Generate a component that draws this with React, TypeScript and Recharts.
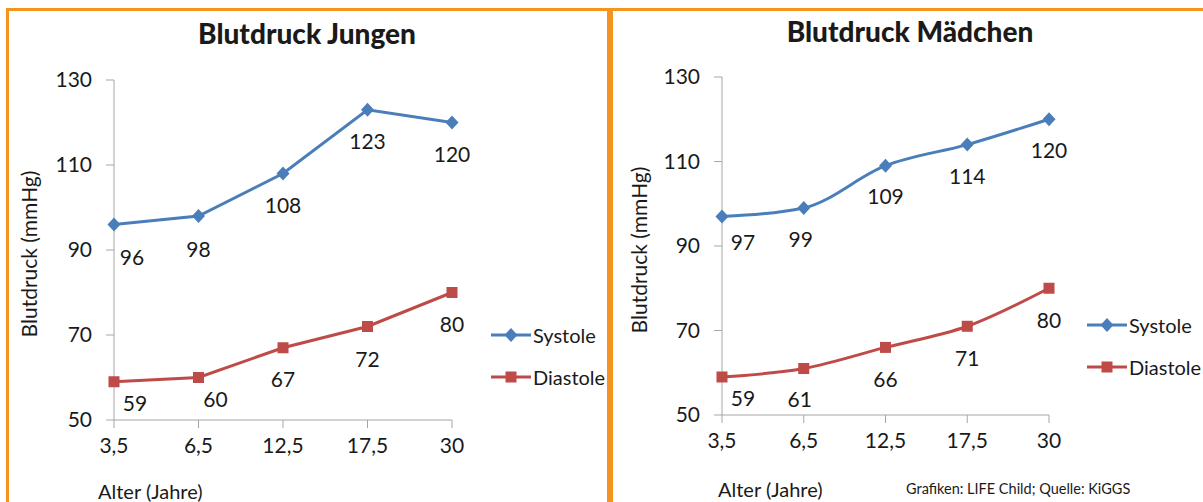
import React from "react";
import { LineChart, Line, XAxis, YAxis, LabelList } from "recharts";

// Werte
const ages = ["3,5", "6,5", "12,5", "17,5", "30"];
const boysSystole = [96, 98, 108, 123, 120];
const boysDiastole = [59, 60, 67, 72, 80];
const girlsSystole = [97, 99, 109, 114, 120];
const girlsDiastole = [59, 61, 66, 71, 80];
const yTicks = [50, 70, 90, 110, 130];

// label placement (dx, dy from the point)
const boysSysLabelPos = [[18, 32], [0, 32], [0, 31], [0, 31], [0, 31]];
const boysDiaLabelPos = [[21, 21], [17, 21], [0, 31], [0, 32], [0, 31]];
const girlsSysLabelPos = [[21, 25], [-3, 31], [0, 30], [0, 31], [0, 30]];
const girlsDiaLabelPos = [[21, 21], [-4, 30], [0, 31], [0, 31], [0, 31]];

const BLUE = "#4a7ebb";
const RED = "#be4b48";
const ORANGE = "#f4931e";
const AXIS = "#a6a6a6";
const TEXT = "#1a1a1a";
const FONT = "Lato, 'Open Sans', sans-serif";

const toRows = (sys: number[], dia: number[]) =>
  ages.map((age, i) => ({ age, Systole: sys[i], Diastole: dia[i] }));

const boysData = toRows(boysSystole, boysDiastole);
const girlsData = toRows(girlsSystole, girlsDiastole);

const diamondDot = (props: any) => {
  const { cx, cy, index } = props;
  if (cx == null || cy == null) return <g key={index} />;
  return (
    <polygon
      key={index}
      points={`${cx},${cy - 7} ${cx + 6.5},${cy} ${cx},${cy + 7} ${cx - 6.5},${cy}`}
      fill={BLUE}
    />
  );
};

const squareDot = (props: any) => {
  const { cx, cy, index } = props;
  if (cx == null || cy == null) return <g key={index} />;
  return <rect key={index} x={cx - 5.5} y={cy - 5.5} width={11} height={11} fill={RED} />;
};

const makeLabel = (pos: number[][]) => (props: any) => {
  const { x, y, value, index } = props;
  const [dx, dy] = pos[index] || [0, 31];
  return (
    <text
      x={x + dx}
      y={y + dy}
      textAnchor="middle"
      dominantBaseline="central"
      fontSize={21}
      fontFamily={FONT}
      fill={TEXT}
    >
      {value}
    </text>
  );
};

const legendItems = [
  { name: "Systole", color: BLUE, shape: "diamond" },
  { name: "Diastole", color: RED, shape: "square" }
];

const LegendBox = ({ left, top }: { left: number; top: number }) => (
  <div style={{ position: "absolute", left, top, fontFamily: FONT }}>
    {legendItems.map((item) => (
      <div key={item.name} style={{ display: "flex", alignItems: "center", height: 42 }}>
        <svg width={40} height={16}>
          <line x1={0} x2={40} y1={8} y2={8} stroke={item.color} strokeWidth={3} />
          {item.shape === "diamond" ? (
            <polygon points="20,1 26.5,8 20,15 13.5,8" fill={item.color} />
          ) : (
            <rect x={14.5} y={2.5} width={11} height={11} fill={item.color} />
          )}
        </svg>
        <span style={{ fontSize: 20, color: TEXT, marginLeft: 2 }}>{item.name}</span>
      </div>
    ))}
  </div>
);

type PanelProps = {
  data: any[];
  width: number;
  margin: { top: number; right: number; bottom: number; left: number };
  smooth: boolean;
  sysPos: number[][];
  diaPos: number[][];
};

function BpChart({ data, width, margin, smooth, sysPos, diaPos }: PanelProps) {
  return (
    <LineChart width={width} height={502} data={data} margin={margin}>
      <XAxis
        dataKey="age"
        stroke={AXIS}
        tickLine={{ stroke: AXIS }}
        tickSize={8}
        tickMargin={10}
        height={30}
        tick={{ fontSize: 21, fill: TEXT, fontFamily: FONT }}
        padding={{ left: 0, right: 0 }}
      />
      <YAxis
        domain={[50, 130]}
        ticks={yTicks}
        width={60}
        stroke={AXIS}
        tickLine={{ stroke: AXIS }}
        tickSize={8}
        tickMargin={14}
        tick={{ fontSize: 21, fill: TEXT, fontFamily: FONT }}
      />
      <Line
        dataKey="Systole"
        type={smooth ? "monotone" : "linear"}
        stroke={BLUE}
        strokeWidth={3}
        dot={diamondDot}
        activeDot={false}
        isAnimationActive={false}
      >
        <LabelList dataKey="Systole" content={makeLabel(sysPos)} />
      </Line>
      <Line
        dataKey="Diastole"
        type={smooth ? "monotone" : "linear"}
        stroke={RED}
        strokeWidth={3}
        dot={squareDot}
        activeDot={false}
        isAnimationActive={false}
      >
        <LabelList dataKey="Diastole" content={makeLabel(diaPos)} />
      </Line>
    </LineChart>
  );
}

const abs = (style: React.CSSProperties): React.CSSProperties => ({
  position: "absolute",
  fontFamily: FONT,
  color: TEXT,
  whiteSpace: "nowrap",
  ...style
});

export default function App() {
  return (
    <div
      style={{
        position: "fixed",
        left: 0,
        top: 0,
        width: 1203,
        height: 502,
        overflow: "hidden",
        background: "#fff"
      }}
    >
      <div style={{ position: "absolute", left: 6, top: 8, width: 598, height: 520, border: `3px solid ${ORANGE}` }} />
      <div style={{ position: "absolute", left: 610, top: 8, width: 620, height: 520, border: `3px solid ${ORANGE}` }} />

      <div style={{ position: "absolute", left: 0, top: 0 }}>
        <BpChart
          data={boysData}
          width={607}
          margin={{ top: 80, right: 155, bottom: 52, left: 54 }}
          smooth={false}
          sysPos={boysSysLabelPos}
          diaPos={boysDiaLabelPos}
        />
      </div>
      <div style={{ position: "absolute", left: 611, top: 0 }}>
        <BpChart
          data={girlsData}
          width={592}
          margin={{ top: 77, right: 154, bottom: 57, left: 51 }}
          smooth={true}
          sysPos={girlsSysLabelPos}
          diaPos={girlsDiaLabelPos}
        />
      </div>

      <LegendBox left={491} top={314} />
      <LegendBox left={1087} top={304} />

      <div style={abs({ left: 307, top: 16, transform: "translateX(-50%)", fontSize: 28, fontWeight: 900, lineHeight: "34px" })}>
        Blutdruck Jungen
      </div>
      <div style={abs({ left: 910, top: 14, transform: "translateX(-50%)", fontSize: 28, fontWeight: 900, lineHeight: "34px" })}>
        Blutdruck Mädchen
      </div>

      <div style={abs({ left: 28, top: 254, transform: "translate(-50%, -50%) rotate(-90deg)", fontSize: 21 })}>
        Blutdruck (mmHg)
      </div>
      <div style={abs({ left: 638, top: 250, transform: "translate(-50%, -50%) rotate(-90deg)", fontSize: 21 })}>
        Blutdruck (mmHg)
      </div>

      <div style={abs({ left: 98, top: 479, fontSize: 20, lineHeight: "24px" })}>Alter (Jahre)</div>
      <div style={abs({ left: 718, top: 477, fontSize: 20, lineHeight: "24px" })}>Alter (Jahre)</div>
      <div style={abs({ left: 906, top: 480, fontSize: 14.5, lineHeight: "18px" })}>
        Grafiken: LIFE Child; Quelle: KiGGS
      </div>
    </div>
  );
}
